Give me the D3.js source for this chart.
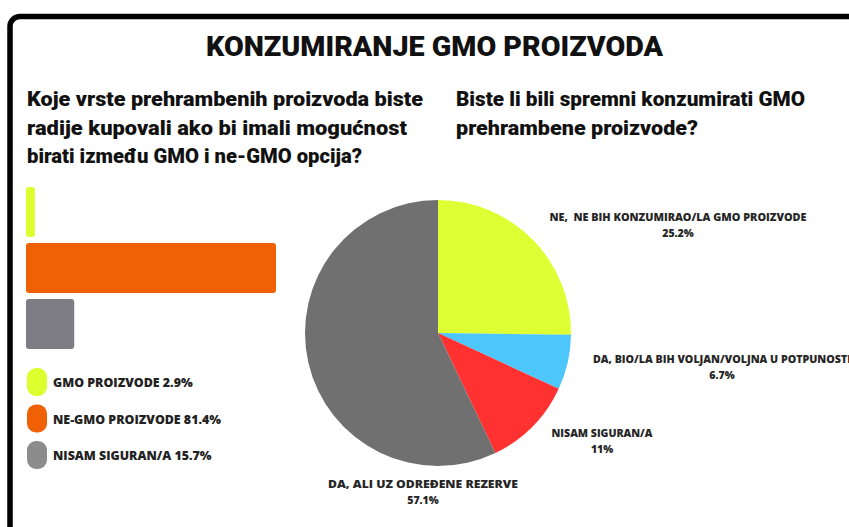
<!DOCTYPE html>
<html>
<head>
<meta charset="utf-8">
<script src="https://cdn.jsdelivr.net/npm/d3@7"></script>
<style>
  body { margin: 0; background: #fff; }
  svg { display: block; }
</style>
</head>
<body>
<div id="container"></div>
<script>
// bar chart data (left)
var barCategories = ["GMO PROIZVODE", "NE-GMO PROIZVODE", "NISAM SIGURAN/A"];
var barValues = [2.9, 81.4, 15.7];
var barColors = ["#DCFF2E", "#F06005", "#7E7D83"];
var legendColors = ["#DCFF2E", "#F06005", "#8C8C8C"];

// pie data (right)
var pieCategories = [
  "NE,  NE BIH KONZUMIRAO/LA GMO PROIZVODE",
  "DA, BIO/LA BIH VOLJAN/VOLJNA U POTPUNOSTI",
  "NISAM SIGURAN/A",
  "DA, ALI UZ ODREĐENE REZERVE"
];
var pieValues = [25.2, 6.7, 11, 57.1];
var pieColors = ["#DDFF33", "#4CC6FB", "#FF3131", "#707070"];

var width = 849, height = 527;

var svg = d3.select("#container").append("svg")
    .attr("width", width)
    .attr("height", height);

// frame
svg.append("rect")
    .attr("x", 10).attr("y", 16.5)
    .attr("width", 1000).attr("height", 700)
    .attr("rx", 10)
    .attr("fill", "none")
    .attr("stroke", "#000")
    .attr("stroke-width", 5.5);

// fit a text line to a width
function line(x, y, txt, size, w, anchor) {
  return svg.append("text")
      .attr("x", x).attr("y", y)
      .attr("text-anchor", anchor || "start")
      .attr("font-family", "Roboto, sans-serif")
      .attr("font-weight", 900)
      .attr("font-size", size)
      .attr("fill", "#111")
      .attr("textLength", w)
      .attr("lengthAdjust", "spacingAndGlyphs")
      .text(txt);
}

line(434.5, 56, "KONZUMIRANJE GMO PROIZVODA", 28, 457, "middle");

line(27, 106, "Koje vrste prehrambenih proizvoda biste", 19.5, 396);
line(27, 134.5, "radije kupovali ako bi imali mogućnost", 19.5, 380);
line(27, 163, "birati između GMO i ne-GMO opcija?", 19.5, 335);

line(456, 106, "Biste li bili spremni konzumirati GMO", 19.5, 349);
line(456, 134.5, "prehrambene proizvode?", 19.5, 242);

// bars
var x = d3.scaleLinear().domain([0, d3.max(barValues)]).range([26, 276]);
var y = d3.scaleBand().domain(barCategories).range([187, 349]).paddingInner(0.107);

svg.selectAll(".bar")
  .data(barCategories)
  .enter().append("rect")
    .attr("class", "bar")
    .attr("x", x(0))
    .attr("y", d => y(d))
    .attr("width", (d, i) => x(barValues[i]) - x(0))
    .attr("height", y.bandwidth())
    .attr("rx", 3)
    .attr("fill", (d, i) => barColors[i]);

// legend
var legend = svg.selectAll(".leg")
  .data(barCategories)
  .enter().append("g")
    .attr("class", "leg")
    .attr("transform", (d, i) => "translate(27," + (368 + i * 36.5) + ")");

legend.append("rect")
    .attr("width", 20).attr("height", 28)
    .attr("rx", 9)
    .attr("fill", (d, i) => legendColors[i]);

legend.append("text")
    .attr("x", 26).attr("y", 19)
    .attr("font-family", "'Open Sans', sans-serif")
    .attr("font-weight", 800)
    .attr("font-size", 12.4)
    .attr("fill", "#222")
    .text((d, i) => d + " " + barValues[i] + "%");

// pie
var cx = 438, cy = 333, r = 133;
var pie = d3.pie().sort(null).value(d => d);
var arc = d3.arc().innerRadius(0).outerRadius(r);
var arcs = pie(pieValues);

var pg = svg.append("g").attr("transform", "translate(" + cx + "," + cy + ")");
pg.selectAll("path")
  .data(arcs)
  .enter().append("path")
    .attr("d", arc)
    .attr("fill", (d, i) => pieColors[i]);

// label anchors relative to pie centre, and first-line widths
var labelOffsets = [[240, -112], [284, 30], [164, 104], [-15, 155]];
var labelWidths = [257, 258, 101, 190];

var lab = pg.selectAll(".lab")
  .data(arcs)
  .enter().append("text")
    .attr("class", "lab")
    .attr("text-anchor", "middle")
    .attr("font-family", "'Open Sans', sans-serif")
    .attr("font-weight", 800)
    .attr("font-size", 10.5)
    .attr("fill", "#262626")
    .style("white-space", "pre")
    .attr("transform", (d, i) => "translate(" + labelOffsets[i][0] + "," + labelOffsets[i][1] + ")");

lab.append("tspan").attr("x", 0).attr("y", 0)
    .attr("textLength", (d, i) => labelWidths[i])
    .attr("lengthAdjust", "spacingAndGlyphs")
    .text((d, i) => pieCategories[i]);
lab.append("tspan").attr("x", 0).attr("y", 15.5).text((d, i) => pieValues[i] + "%");
</script>
</body>
</html>
